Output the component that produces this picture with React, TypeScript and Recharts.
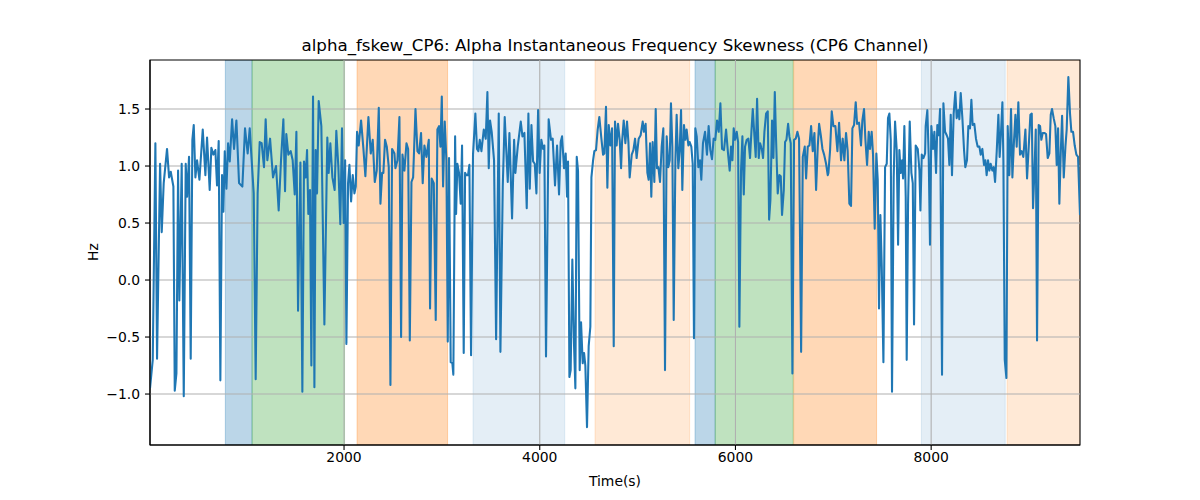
import React from 'react'
import { ComposedChart, Line, XAxis, YAxis, ReferenceArea, ReferenceLine } from 'recharts'

// [time (s), skewness (Hz)]
const skewSamples: [number, number][] = [
  [17, -0.95], [45, -0.7], [72, 1.2], [89, -0.69], [120, 1.02], [137, 0.42], [157, 0.85], [191, 1.15],
  [212, 0.9], [229, 0.95], [256, 0.82], [270, -0.97], [287, -0.82], [304, 0.96], [317, -0.18], [341, 1.02],
  [362, -1.02], [382, 1.02], [396, 0.73], [416, 1.08], [433, -0.69], [450, 1.23], [464, 1.36], [481, 0.9],
  [498, 1.05], [522, 0.88], [556, 1.32], [583, 0.92], [600, 1.25], [627, 0.79], [644, 1.16], [665, 1.1],
  [685, 1.14], [702, 0.83], [719, 1.22], [736, -0.88], [753, 0.92], [767, 0.6], [781, 1.13], [798, 0.8],
  [815, 1.2], [832, 1.04], [856, 1.41], [876, 1.15], [900, 1.4], [927, 0.85], [961, 0.82], [988, 1.33],
  [1015, 1.11], [1036, 1.33], [1056, 1.05], [1077, 0.76], [1097, -0.87], [1117, 0.76], [1138, 1.21], [1158, 1.2],
  [1182, 0.99], [1199, 1.41], [1216, 1.05], [1244, 1.24], [1274, 0.9], [1305, 1.0], [1332, 0.61], [1356, 1.05],
  [1380, 1.41], [1397, 0.78], [1410, 1.28], [1431, 1.1], [1455, 1.13], [1475, 1.05], [1496, 0.75], [1513, 1.3],
  [1530, -0.27], [1554, 1.03], [1574, -0.98], [1591, 1.04], [1608, 0.9], [1622, 1.14], [1635, 0.58], [1652, 0.79],
  [1666, -0.75], [1683, 1.61], [1697, -0.94], [1710, 1.14], [1724, 0.76], [1741, 1.57], [1768, 1.35], [1799, -0.39],
  [1829, 1.25], [1843, 0.94], [1860, 1.2], [1881, 0.9], [1904, 0.79], [1921, 1.31], [1942, 0.99], [1962, 0.49],
  [1979, 1.33], [1996, 0.5], [2011, 1.05], [2024, -0.56], [2041, 0.85], [2055, 1.01], [2072, 0.69], [2089, 0.92],
  [2106, 0.76], [2120, 0.82], [2133, 1.3], [2150, 1.18], [2174, 1.4], [2198, 1.15], [2218, 0.91], [2249, 1.43],
  [2273, 1.11], [2293, 1.23], [2314, 0.86], [2334, 0.96], [2355, 1.51], [2372, 0.67], [2389, 0.94], [2402, 0.94],
  [2419, 1.23], [2437, 1.17], [2457, 0.99], [2474, -0.92], [2491, 1.15], [2515, 1.11], [2525, 0.98], [2546, 1.05],
  [2566, 1.43], [2583, -0.5], [2597, 1.1], [2617, 0.96], [2638, 1.2], [2655, 1.15], [2672, -0.53], [2689, 0.86],
  [2706, 0.9], [2730, 1.5], [2750, 1.13], [2767, 1.11], [2787, 1.29], [2804, 0.85], [2821, 1.18], [2842, 1.08],
  [2866, 1.23], [2879, -0.25], [2896, 0.89], [2917, 0.85], [2937, -0.35], [2954, 1.32], [2971, 1.35], [2985, 1.17],
  [2999, 1.61], [3012, 0.82], [3029, 1.39], [3046, 1.05], [3060, -0.54], [3073, 1.07], [3090, -0.72], [3107, -0.73],
  [3117, -0.83], [3135, 1.26], [3145, 0.58], [3158, 1.02], [3175, 0.94], [3192, 0.67], [3206, 1.18], [3223, -0.64],
  [3237, 0.94], [3250, 0.92], [3267, 0.92], [3281, 1.01], [3298, -0.66], [3318, 1.1], [3342, 1.46], [3359, 1.15],
  [3373, 1.13], [3387, 1.23], [3404, 1.13], [3428, 1.32], [3448, 1.24], [3465, 1.65], [3479, 0.98], [3492, 1.4],
  [3509, 1.3], [3533, 1.05], [3554, -0.52], [3581, 1.46], [3598, -0.63], [3622, 0.82], [3642, 1.43], [3673, 0.86],
  [3690, 1.29], [3717, 0.54], [3738, 1.23], [3751, 0.94], [3775, 1.17], [3806, 1.39], [3823, 1.26], [3843, 1.29],
  [3867, 0.63], [3884, 1.46], [3898, 0.8], [3915, 1.36], [3932, 1.04], [3949, 1.02], [3966, 0.76], [3983, 1.49],
  [3999, 0.94], [4016, 1.23], [4034, 1.15], [4047, 1.18], [4064, -0.67], [4091, 1.41], [4115, 1.23], [4132, 1.24],
  [4156, 0.83], [4177, 1.18], [4197, 0.75], [4214, 1.21], [4228, 1.26], [4248, 0.98], [4265, 1.11], [4279, 0.73],
  [4289, 1.04], [4303, -0.85], [4316, -0.79], [4333, 0.18], [4350, -0.56], [4364, -0.95], [4378, 1.08], [4391, 0.96],
  [4408, -0.79], [4422, -0.37], [4439, -0.73], [4453, -0.64], [4466, -0.75], [4483, -1.29], [4500, -0.58], [4517, -0.41],
  [4528, 0.9], [4545, 1.05], [4558, 1.13], [4575, 1.14], [4592, 1.32], [4609, 1.43], [4630, 1.24], [4647, 1.1],
  [4660, 1.11], [4677, 1.52], [4691, 0.81], [4705, 1.36], [4722, 1.18], [4739, 1.33], [4756, -0.58], [4769, 1.39],
  [4786, 1.18], [4800, 1.37], [4817, 1.23], [4831, 0.98], [4841, 1.21], [4858, 1.4], [4875, 1.2], [4892, 1.39],
  [4906, 1.21], [4919, 0.9], [4940, 1.1], [4957, 1.14], [4974, 1.24], [4990, 1.07], [5011, 1.24], [5031, 1.27],
  [5052, 1.39], [5065, 1.3], [5082, 1.37], [5100, 0.94], [5113, 0.88], [5127, 1.2], [5140, 0.73], [5154, 1.21],
  [5171, 0.86], [5185, 1.5], [5198, 0.98], [5212, 0.99], [5229, 0.86], [5246, 1.17], [5263, 1.33], [5280, -0.79],
  [5297, 1.26], [5314, 0.99], [5328, 1.05], [5341, 1.55], [5355, 1.17], [5369, -0.35], [5386, 1.04], [5399, 1.45],
  [5416, 0.98], [5430, 1.14], [5444, 1.49], [5457, 0.79], [5474, 1.36], [5488, 1.23], [5501, 1.32], [5519, 1.18],
  [5532, 1.21], [5549, 1.17], [5563, 1.02], [5576, -0.51], [5590, 1.33], [5604, 1.26], [5621, 0.99], [5638, 1.05],
  [5651, 0.88], [5668, 1.2], [5689, 1.3], [5709, 1.1], [5726, 1.35], [5743, 1.14], [5760, 1.06], [5777, 1.24],
  [5794, 1.23], [5812, 1.4], [5829, 1.3], [5846, 1.55], [5863, 1.15], [5883, 1.14], [5904, 1.32], [5924, 1.11],
  [5941, 0.96], [5955, 1.17], [5969, 1.05], [5982, 1.33], [5996, 1.23], [6013, 1.3], [6027, 1.21], [6040, -0.41],
  [6057, 0.96], [6071, 1.26], [6085, 0.75], [6098, 1.17], [6115, 1.23], [6132, 1.24], [6149, 1.07], [6163, 1.3],
  [6177, 1.5], [6194, 1.26], [6207, 1.08], [6221, 1.59], [6238, 1.07], [6252, 1.2], [6269, 1.15], [6282, 1.07],
  [6296, 1.3], [6313, 1.46], [6330, 1.48], [6344, 0.53], [6357, 0.7], [6374, 1.4], [6388, 1.07], [6402, 1.65],
  [6415, 1.23], [6432, 0.76], [6449, 0.92], [6463, 0.91], [6476, 0.57], [6494, 0.79], [6507, 1.21], [6521, 1.23],
  [6538, 1.37], [6551, 1.26], [6565, 1.2], [6582, -0.82], [6599, 1.23], [6616, 1.24], [6633, 1.3], [6650, 1.24],
  [6671, -0.63], [6688, 1.08], [6708, 1.17], [6722, 0.89], [6739, 1.17], [6756, 1.18], [6773, 1.35], [6790, 1.13],
  [6807, 1.29], [6824, 0.79], [6841, 1.17], [6855, 1.37], [6872, 1.27], [6889, 1.15], [6906, 1.1], [6926, 1.02],
  [6943, 0.92], [6950, 0.94], [6967, 1.14], [6984, 1.48], [7001, 1.35], [7021, 1.35], [7042, 1.13], [7059, 1.38],
  [7079, 1.05], [7096, 1.24], [7113, 1.05], [7130, 1.29], [7147, 1.13], [7164, 0.67], [7181, 0.65], [7195, 1.33],
  [7212, 1.36], [7229, 1.56], [7243, 1.37], [7263, 1.38], [7283, 1.18], [7297, 1.4], [7314, 1.5], [7328, 1.23],
  [7345, 1.01], [7362, 1.3], [7375, 1.15], [7392, 1.3], [7406, 1.1], [7423, 0.45], [7440, 1.11], [7454, 0.88],
  [7467, -0.25], [7481, 0.57], [7495, 0.12], [7512, -0.72], [7529, 0.99], [7546, 1.02], [7559, 1.42], [7573, 1.46],
  [7587, 1.23], [7600, -0.98], [7617, 0.9], [7631, 1.39], [7648, 1.14], [7662, 0.31], [7675, 1.14], [7689, 0.94],
  [7703, 1.05], [7713, 0.89], [7726, 1.35], [7740, 0.73], [7750, -0.7], [7764, 0.67], [7781, 1.39], [7798, 0.94],
  [7812, 0.85], [7825, -0.39], [7842, 1.18], [7863, 1.15], [7880, 0.96], [7890, 0.61], [7904, 1.1], [7921, 1.07],
  [7938, 1.11], [7944, 1.35], [7961, 1.49], [7975, 1.08], [7988, 0.31], [8002, 1.35], [8019, 1.15], [8033, 1.3],
  [8050, 0.94], [8063, 1.36], [8077, 1.27], [8091, 1.5], [8111, -0.83], [8125, 1.55], [8142, 1.3], [8159, 1.27],
  [8172, 1.24], [8186, 1.01], [8200, 1.45], [8213, 0.92], [8230, 1.46], [8247, 1.65], [8261, 1.42], [8278, 1.49],
  [8288, 1.41], [8302, 1.64], [8319, 1.42], [8336, 1.14], [8349, 0.99], [8366, 1.05], [8380, 1.35], [8397, 1.33],
  [8411, 1.58], [8424, 1.36], [8441, 1.37], [8458, 1.24], [8475, 1.17], [8493, 1.17], [8506, 1.1], [8523, 1.15],
  [8540, 1.01], [8554, 1.05], [8567, 0.92], [8581, 1.05], [8595, 0.96], [8608, 1.02], [8625, 0.96], [8639, 0.99],
  [8653, 0.86], [8670, 1.13], [8687, 1.45], [8700, 1.08], [8714, 1.3], [8728, 1.56], [8738, 1.05], [8752, -0.7],
  [8769, -0.86], [8782, 1.35], [8799, 0.92], [8816, 1.5], [8830, 0.9], [8847, 1.23], [8861, 1.45], [8874, 1.17],
  [8891, 1.56], [8908, 1.1], [8925, 1.13], [8942, 1.08], [8963, 1.32], [8980, 0.89], [8997, 1.17], [9014, 1.45],
  [9028, 1.46], [9041, 0.63], [9058, 1.02], [9069, 1.32], [9082, -0.53], [9099, 1.36], [9113, 1.35], [9126, 1.23],
  [9140, 1.29], [9157, 1.29], [9174, 1.28], [9191, 1.07], [9208, 1.11], [9222, 1.45], [9235, 1.5], [9252, 1.42],
  [9269, 1.35], [9283, 1.01], [9297, 1.33], [9310, 0.67], [9324, 1.11], [9338, 1.44], [9355, 0.9], [9372, 1.17],
  [9385, 1.32], [9402, 1.78], [9419, 1.46], [9433, 1.3], [9450, 1.3], [9467, 1.18], [9484, 1.1], [9501, 1.08],
  [9521, 0.57],
]

// shaded segments: [start, end, kind]
const segments: [number, number, string][] = [
  [787, 1060, 'blue'],
  [1060, 2005, 'green'],
  [2133, 3058, 'orange'],
  [3318, 4255, 'paleBlue'],
  [4565, 5532, 'paleOrange'],
  [5587, 5793, 'blue'],
  [5793, 6590, 'green'],
  [6595, 7442, 'orange'],
  [7900, 8757, 'paleBlue'],
  [8776, 9521, 'paleOrange'],
]

const xTicks = [2000, 4000, 6000, 8000]
const yTicks = [-1.0, -0.5, 0, 0.5, 1.0, 1.5]

const X_MIN = 17
const X_MAX = 9521
const Y_MIN = -1.447
const Y_MAX = 1.93

const segmentStyle: Record<string, { fill: string; opacity: number }> = {
  blue: { fill: '#1f77b4', opacity: 0.3 },
  green: { fill: '#2ca02c', opacity: 0.3 },
  orange: { fill: '#ff7f0e', opacity: 0.3 },
  paleBlue: { fill: '#1f77b4', opacity: 0.12 },
  paleOrange: { fill: '#ff7f0e', opacity: 0.17 },
}

const data = skewSamples.map(([t, v]) => ({ t, v }))

const FONT = 'DejaVu Sans, sans-serif'
const tickStyle = { fontFamily: FONT, fontSize: 13.9, fill: '#000' }

const fmtY = (v: number) => v.toFixed(1).replace('-', '\u2212')

export default function App() {
  return (
    <div style={{ position: 'absolute', left: 0, top: 0, width: 1200, height: 500, background: '#fff' }}>
      <ComposedChart
        width={1200}
        height={500}
        data={data}
        margin={{ top: 60, right: 120, left: 0, bottom: 0 }}
      >
        <XAxis
          dataKey="t"
          type="number"
          domain={[X_MIN, X_MAX]}
          ticks={xTicks}
          allowDataOverflow
          height={55}
          tick={tickStyle}
          tickSize={5}
          tickMargin={2}
          stroke="#000"
          axisLine={{ stroke: '#000', strokeWidth: 1.1 }}
          tickLine={{ stroke: '#000', strokeWidth: 1.1 }}
        />
        <YAxis
          type="number"
          domain={[Y_MIN, Y_MAX]}
          ticks={yTicks}
          allowDataOverflow
          width={150}
          tick={tickStyle}
          tickFormatter={fmtY}
          tickSize={5}
          tickMargin={5}
          stroke="#000"
          axisLine={{ stroke: '#000', strokeWidth: 1.1 }}
          tickLine={{ stroke: '#000', strokeWidth: 1.1 }}
        />
        {segments.map(([a, b, kind], i) => (
          <ReferenceArea
            key={`seg-${i}`}
            x1={a}
            x2={b}
            y1={Y_MIN}
            y2={Y_MAX}
            fill={segmentStyle[kind].fill}
            fillOpacity={segmentStyle[kind].opacity}
            stroke={segmentStyle[kind].fill}
            strokeOpacity={segmentStyle[kind].opacity}
            strokeWidth={1}
            ifOverflow="hidden"
          />
        ))}
        {xTicks.map((t) => (
          <ReferenceLine key={`gx-${t}`} x={t} stroke="#b0b0b0" strokeWidth={1.1} />
        ))}
        {yTicks.map((t) => (
          <ReferenceLine key={`gy-${t}`} y={t} stroke="#b0b0b0" strokeWidth={1.1} />
        ))}
        <Line
          dataKey="v"
          type="linear"
          stroke="#1f77b4"
          strokeWidth={2.08}
          strokeLinejoin="round"
          dot={false}
          activeDot={false}
          isAnimationActive={false}
        />
        <ReferenceArea
          x1={X_MIN}
          x2={X_MAX}
          y1={Y_MIN}
          y2={Y_MAX}
          fill="none"
          stroke="#000"
          strokeWidth={1.1}
        />
      </ComposedChart>
      <div
        style={{
          position: 'absolute', left: 150, width: 930, top: 36, textAlign: 'center',
          fontFamily: FONT, fontSize: 16.67, lineHeight: '20px', color: '#000', whiteSpace: 'nowrap',
        }}
      >
        alpha_fskew_CP6: Alpha Instantaneous Frequency Skewness (CP6 Channel)
      </div>
      <div
        style={{
          position: 'absolute', left: 150, width: 930, top: 473, textAlign: 'center',
          fontFamily: FONT, fontSize: 13.9, lineHeight: '16px', color: '#000',
        }}
      >
        Time(s)
      </div>
      <div
        style={{
          position: 'absolute', left: 93, top: 252, transform: 'translate(-50%, -50%) rotate(-90deg)',
          fontFamily: FONT, fontSize: 13.9, lineHeight: '16px', color: '#000', whiteSpace: 'nowrap',
        }}
      >
        Hz
      </div>
    </div>
  )
}
